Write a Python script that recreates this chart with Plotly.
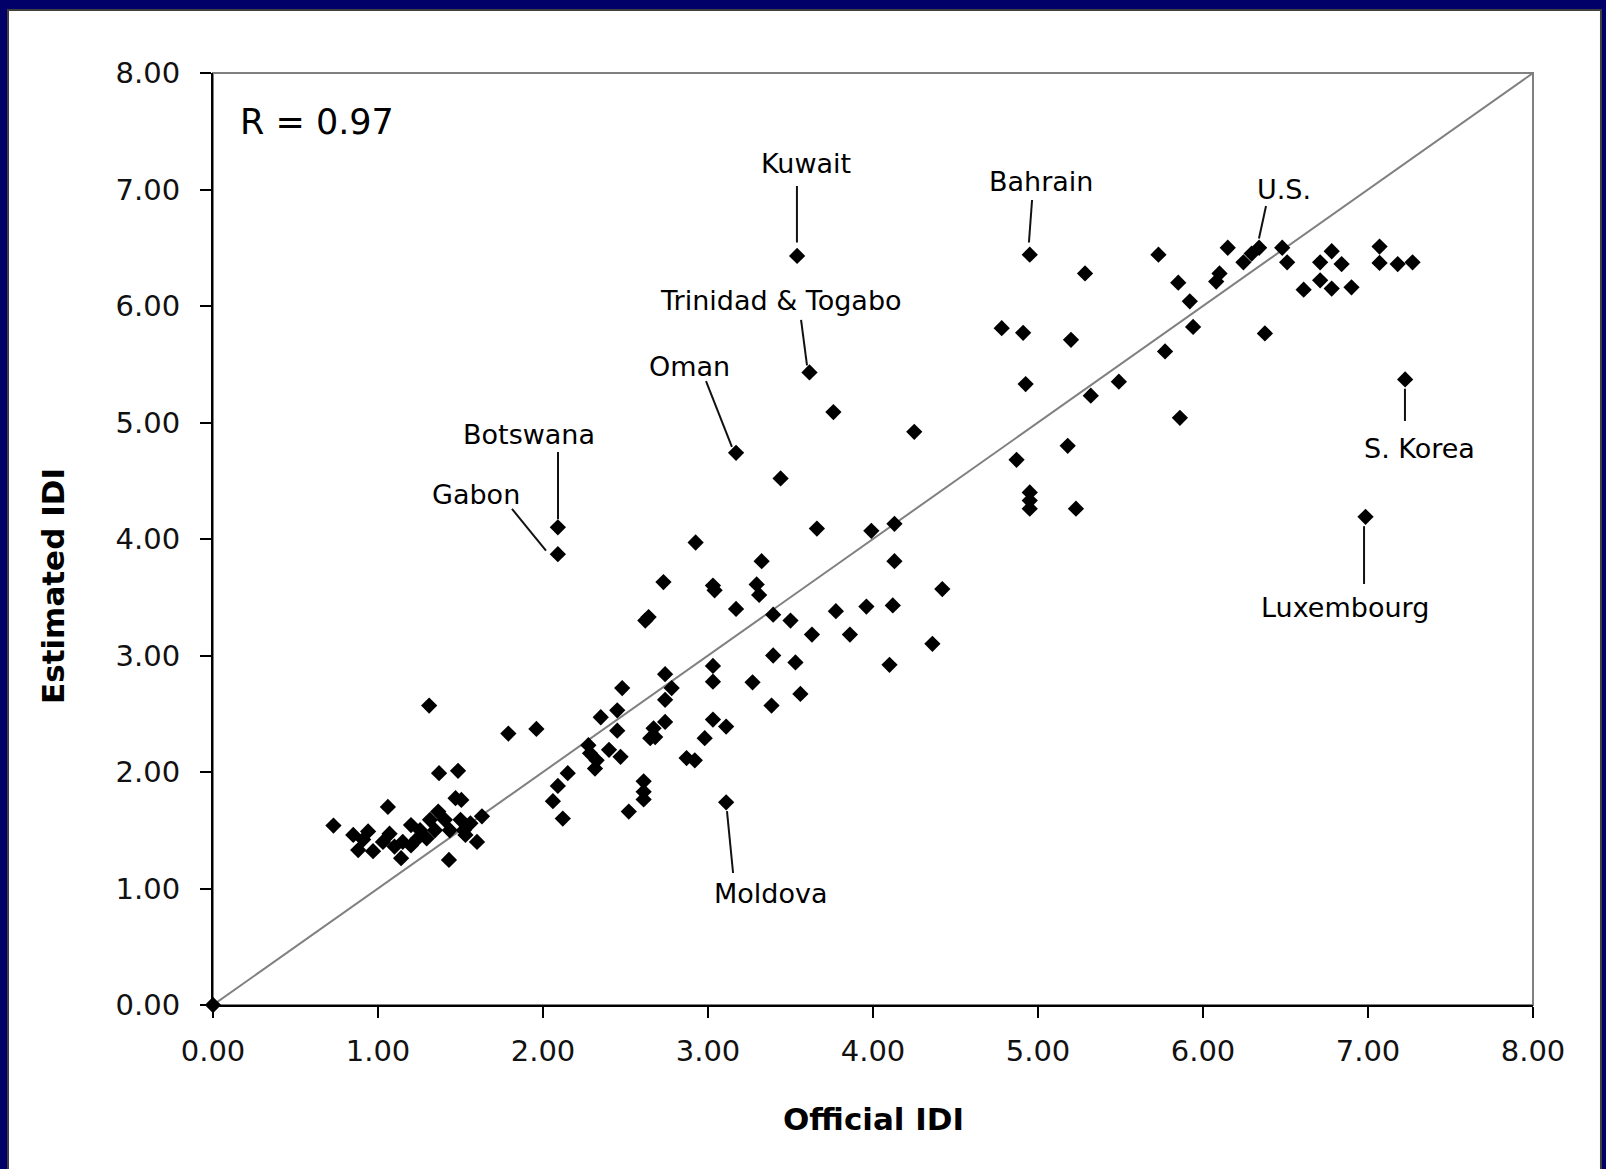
import plotly.graph_objects as go

# ---- data ----
official_idi = [
    0.00, 0.73, 0.85, 0.88, 0.91, 0.94, 0.97, 1.03, 1.06, 1.07, 1.10, 1.14, 1.15,
    1.20, 1.20, 1.24, 1.255, 1.295, 1.31, 1.315, 1.345, 1.365, 1.37, 1.405, 1.435,
    1.43, 1.47, 1.485, 1.50, 1.505, 1.52, 1.53, 1.56, 1.60, 1.63,
    1.79, 1.96, 2.06, 2.09, 2.12, 2.15, 2.09, 2.09, 2.275, 2.285, 2.325, 2.315,
    2.35, 2.40, 2.45, 2.45, 2.47, 2.48, 2.52, 2.61, 2.61, 2.61, 2.62, 2.64, 2.65,
    2.67, 2.68, 2.74, 2.74, 2.74, 2.78, 2.73, 2.87, 2.92, 2.925, 2.98, 3.03, 3.03,
    3.03, 3.03, 3.04, 3.11, 3.11, 3.17, 3.17, 3.27, 3.295, 3.31, 3.325, 3.385,
    3.395, 3.395, 3.44, 3.50, 3.53, 3.54, 3.56, 3.615, 3.63, 3.66, 3.76, 3.775,
    3.86, 3.96, 3.99, 4.10, 4.12, 4.13, 4.13, 4.25, 4.36, 4.42,
    4.78, 4.87, 4.91, 4.925, 4.95, 4.95, 4.95, 4.95, 5.18, 5.20, 5.23, 5.285,
    5.32, 5.49, 5.73, 5.77, 5.85, 5.86, 5.92, 5.94, 6.08, 6.10, 6.15, 6.245,
    6.295, 6.34, 6.375, 6.48, 6.51, 6.61, 6.71, 6.71, 6.78, 6.84, 6.78, 6.90,
    6.985, 7.07, 7.07, 7.18, 7.225, 7.27,
]
estimated_idi = [
    0.00, 1.54, 1.46, 1.33, 1.42, 1.49, 1.32, 1.40, 1.70, 1.47, 1.36, 1.26, 1.40,
    1.545, 1.37, 1.43, 1.50, 1.43, 2.57, 1.59, 1.50, 1.66, 1.99, 1.59, 1.50,
    1.245, 1.775, 2.01, 1.59, 1.76, 1.50, 1.46, 1.56, 1.40, 1.62,
    2.33, 2.37, 1.75, 1.88, 1.60, 1.99, 4.10, 3.87, 2.23, 2.16, 2.10, 2.03,
    2.47, 2.19, 2.53, 2.355, 2.13, 2.72, 1.66, 1.92, 1.83, 1.765, 3.30, 3.33, 2.29,
    2.375, 2.30, 2.43, 2.62, 2.84, 2.72, 3.63, 2.12, 2.10, 3.97, 2.29, 2.91, 2.775,
    2.45, 3.60, 3.56, 2.39, 1.74, 3.40, 4.74, 2.77, 3.61, 3.52, 3.81, 2.57,
    3.35, 3.00, 4.52, 3.30, 2.94, 6.43, 2.67, 5.43, 3.18, 4.09, 5.09, 3.38,
    3.18, 3.42, 4.07, 2.92, 3.43, 4.13, 3.81, 4.92, 3.10, 3.57,
    5.81, 4.68, 5.77, 5.33, 6.44, 4.40, 4.33, 4.26, 4.80, 5.71, 4.26, 6.28,
    5.23, 5.35, 6.44, 5.61, 6.20, 5.04, 6.04, 5.82, 6.21, 6.28, 6.50, 6.375,
    6.45, 6.50, 5.765, 6.50, 6.375, 6.14, 6.375, 6.22, 6.47, 6.36, 6.15, 6.16,
    4.19, 6.51, 6.37, 6.36, 5.37, 6.375,
]
diag_x = [0, 8]
diag_y = [0, 8]
tick_vals = [0, 1, 2, 3, 4, 5, 6, 7, 8]
r_text = "R = 0.97"

FONT = "DejaVu Sans"
NAVY = "#000068"

fig = go.Figure()
fig.add_trace(go.Scatter(x=diag_x, y=diag_y, mode="lines",
                         line=dict(color="#808080", width=2),
                         hoverinfo="skip", showlegend=False))
fig.add_trace(go.Scatter(x=official_idi, y=estimated_idi, mode="markers",
                         marker=dict(symbol="diamond", size=12.5, color="black",
                                     line=dict(width=0)),
                         showlegend=False, cliponaxis=False))

# country labels: (text, text_x, text_y, line_x0, line_y0, line_x1, line_y1)
labels = [
    ("Kuwait", 3.594, 7.227, 3.539, 7.030, 3.539, 6.545),
    ("Bahrain", 5.018, 7.073, 4.964, 6.910, 4.945, 6.545),
    ("U.S.", 6.491, 6.996, 6.382, 6.858, 6.339, 6.580),
    ("Trinidad & Togabo", 3.442, 6.043, 3.564, 5.880, 3.600, 5.490),
    ("Oman", 2.885, 5.485, 2.988, 5.356, 3.145, 4.790),
    ("Botswana", 1.915, 4.901, 2.091, 4.747, 2.091, 4.170),
    ("Gabon", 1.594, 4.386, 1.812, 4.258, 2.018, 3.900),
    ("Moldova", 3.382, 0.953, 3.115, 1.665, 3.152, 1.133),
    ("S. Korea", 7.315, 4.781, 7.224, 5.290, 7.224, 5.013),
    ("Luxembourg", 6.861, 3.416, 6.976, 4.110, 6.976, 3.614),
]

shapes = [
    # white chart panel on the navy slide background
    dict(type="rect", xref="paper", yref="paper", x0=-0.1553, x1=1.0515,
         y0=-0.18, y1=1.0676, fillcolor="white",
         line=dict(color="#404040", width=2), layer="below"),
    # grey plot-area border (top/right visible)
    dict(type="rect", xref="x domain", yref="y domain", x0=0, x1=1, y0=0, y1=1,
         line=dict(color="#808080", width=2), layer="below"),
]
annotations = []
for name, tx, ty, lx0, ly0, lx1, ly1 in labels:
    shapes.append(dict(type="line", xref="x", yref="y", x0=lx0, y0=ly0, x1=lx1, y1=ly1,
                       line=dict(color="#111111", width=2)))
    annotations.append(dict(x=tx, y=ty, xref="x", yref="y", text=name, showarrow=False,
                            font=dict(family=FONT, size=27, color="black"),
                            xanchor="center", yanchor="middle"))

annotations.append(dict(x=0.152, y=7.579, xref="x", yref="y", text=r_text, showarrow=False,
                        font=dict(family=FONT, size=35, color="black"),
                        xanchor="left", yanchor="middle"))
annotations.append(dict(x=0.5, y=-0.1223, xref="paper", yref="paper", text="<b>Official IDI</b>",
                        showarrow=False, font=dict(family=FONT, size=31, color="black"),
                        xanchor="center", yanchor="middle"))
annotations.append(dict(x=-0.1212, y=0.4496, xref="paper", yref="paper", text="<b>Estimated IDI</b>",
                        showarrow=False, textangle=-90,
                        font=dict(family=FONT, size=31, color="black"),
                        xanchor="center", yanchor="middle"))

axis_common = dict(range=[0, 8], tickmode="array", tickvals=tick_vals, tickformat=".2f",
                   showgrid=False, zeroline=False, showline=True, linecolor="black",
                   linewidth=2, ticks="outside", ticklen=11, tickwidth=2, tickcolor="black",
                   tickfont=dict(family=FONT, size=29, color="#111111"), mirror=False)

fig.update_layout(
    width=1606, height=1169,
    paper_bgcolor=NAVY, plot_bgcolor="white",
    margin=dict(l=213, r=73, t=73, b=164, autoexpand=False),
    xaxis=dict(**axis_common, ticklabelstandoff=8),
    yaxis=dict(**axis_common, ticklabelstandoff=14),
    shapes=shapes, annotations=annotations,
    showlegend=False,
)

fig.write_html(
    "out.html",
    config={"displayModeBar": False},
    post_script=("document.body.style.margin='0';document.body.style.padding='0';"
                 "document.body.style.overflow='hidden';"
                 "document.body.style.background='" + NAVY + "';"),
)
